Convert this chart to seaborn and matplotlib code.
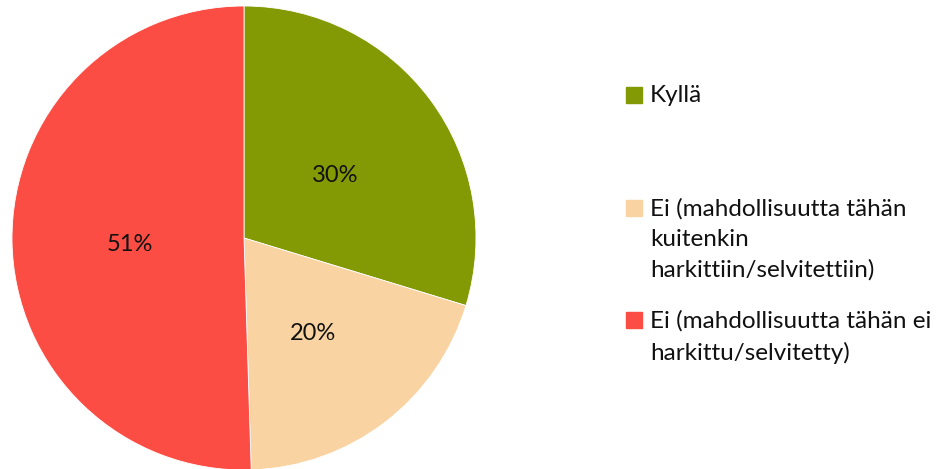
import numpy as np
import matplotlib
matplotlib.use("Agg")
import matplotlib.pyplot as plt
import seaborn as sns
from matplotlib.patches import Rectangle

categories = [
    "Kyllä",
    "Ei (mahdollisuutta tähän\nkuitenkin\nharkittiin/selvitettiin)",
    "Ei (mahdollisuutta tähän ei\nharkittu/selvitetty)",
]
shares = [30, 20, 51]
colors = ["#849A04", "#F9D3A2", "#FB4D44"]

sns.set_theme(style="white")
plt.rcParams["font.family"] = ["Lato", "DejaVu Sans"]

fig = plt.figure(figsize=(9.45, 4.69), dpi=100)
ax = fig.add_axes([12 / 945, -1 / 469, 464 / 945, 464 / 469])

wedges, _ = ax.pie(
    shares,
    colors=colors,
    startangle=90,
    counterclock=False,
    radius=1.0,
    wedgeprops=dict(edgecolor="white", linewidth=0.6),
)
ax.set_xlim(-1, 1)
ax.set_ylim(-1, 1)
ax.set_aspect("equal")
ax.axis("off")

# percentage labels at the middle of each wedge
for w, v in zip(wedges, shares):
    mid = np.deg2rad((w.theta1 + w.theta2) / 2)
    ax.text(0.49 * np.cos(mid), 0.49 * np.sin(mid) - 0.022, f"{v}%",
            ha="center", va="center", fontsize=17, color="#111111")

# legend: colour square followed by the wrapped category text
W, H = 945, 469
legend_rows = [95, 208, 320]
for cat, col, y in zip(categories, colors, legend_rows):
    fig.patches.append(Rectangle((626 / W, (H - y - 8) / H), 16 / W, 16 / H,
                                 transform=fig.transFigure, color=col))
    fig.text(650 / W, (H - y + 10) / H, cat, ha="left", va="top",
             fontsize=17.5, linespacing=1.55, color="#111111",
             transform=fig.transFigure)

fig.savefig("out.png", dpi=100)
